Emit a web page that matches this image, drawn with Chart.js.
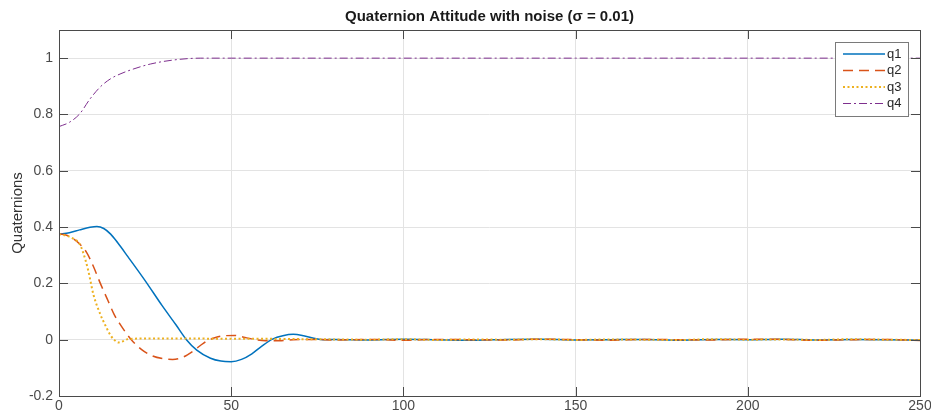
<!DOCTYPE html>
<html>
<head>
<meta charset="utf-8">
<script src="https://cdn.jsdelivr.net/npm/chart.js@4.4.1/dist/chart.umd.min.js"></script>
<style>
  html, body { margin: 0; padding: 0; background: #fff; }
  #wrap { width: 931px; height: 417px; }
</style>
</head>
<body>
<div id="wrap"><canvas id="Chart"></canvas></div>
<script>
const titleText = "Quaternion Attitude with noise (\u03c3 = 0.01)";
const seriesNames = ["q1", "q2", "q3", "q4"];
const xTicks = [0, 50, 100, 150, 200, 250];
const yTicks = [-0.2, 0, 0.2, 0.4, 0.6, 0.8, 1];

// sample times and values, one pair of arrays per component
const q1Time = [0, 3, 6, 9, 11, 13, 15, 17, 20, 25, 30, 34, 37, 40, 44, 47, 50, 53, 56, 59, 62, 65, 68, 71, 74, 77,
  80, 90, 100, 110, 120, 130, 140, 150, 160, 170, 180, 190, 200, 210, 220, 230, 240, 250];
const q1Vals = [0.375, 0.380, 0.390, 0.399, 0.402, 0.395, 0.375, 0.345, 0.295, 0.210, 0.120, 0.052, 0.000, -0.037, -0.066, -0.076, -0.078, -0.070, -0.050, -0.022, 0.002, 0.014, 0.019, 0.014, 0.005, 0.000,
  0.001, -0.001, 0.002, 0.000, -0.002, 0.001, 0.002, -0.001, 0.000, 0.001, -0.002, 0.001, 0.000, 0.002, -0.001, 0.001, 0.000, -0.002];

const q2Time = [0, 2, 4, 6, 8, 10, 12, 14, 16, 18, 21, 24, 27, 30, 33, 36, 39, 42, 45, 48, 51, 54, 57, 60, 64, 68, 75,
  80, 90, 100, 110, 120, 130, 140, 150, 160, 170, 180, 190, 200, 210, 220, 230, 240, 250];
const q2Vals = [0.375, 0.372, 0.360, 0.340, 0.310, 0.260, 0.200, 0.145, 0.090, 0.050, 0.000, -0.035, -0.057, -0.067, -0.070, -0.062, -0.040, -0.012, 0.006, 0.014, 0.015, 0.008, 0.000, -0.004, -0.004, 0.000, 0.001,
  -0.001, 0.001, -0.002, 0.001, 0.000, -0.001, 0.002, 0.000, -0.002, 0.001, 0.000, -0.001, 0.002, 0.001, -0.002, 0.000, 0.001, -0.003];

const q3Time = [0, 2, 4, 6, 7, 8.5, 10, 12, 13.5, 15, 16, 17.2, 18.5, 20, 25,
  30, 40, 50, 60, 70, 80, 90, 100, 110, 120, 130, 140, 150, 160, 170, 180, 190, 200, 210, 220, 230, 240, 250];
const q3Vals = [0.375, 0.370, 0.360, 0.340, 0.310, 0.245, 0.160, 0.090, 0.050, 0.015, 0.000, -0.010, -0.006, 0.002, 0.004,
  0.004, 0.004, 0.003, 0.003, 0.002, 0.001, 0.000, 0.002, -0.001, 0.001, 0.000, 0.002, -0.001, 0.001, 0.000, -0.001, 0.002, 0.000, 0.001, -0.001, 0.002, 0.000, -0.001];

const q4Time = [0, 3, 6, 9, 12, 15, 18, 21.5, 26.5, 33, 41, 50, 100, 150, 200, 250];
const q4Vals = [0.757, 0.772, 0.802, 0.855, 0.898, 0.927, 0.945, 0.961, 0.979, 0.993, 1.000, 1.000, 1.000, 1.000, 1.000, 1.000];

const toPoints = (ts, vs) => ts.map((t, i) => ({ x: t, y: vs[i] }));

const FONT = "'Liberation Sans', Arial, sans-serif";
const TEXT = "#4a4a4a";
const AXIS = "#4a4a4a";

// box, inward ticks, title and legend, drawn the way the plotting tool lays them out
const framePlugin = {
  id: "frame",
  afterDraw(chart) {
    const { ctx, chartArea: a, scales } = chart;
    const tl = 9;
    ctx.save();
    ctx.strokeStyle = AXIS;
    ctx.lineWidth = 1;
    ctx.strokeRect(Math.round(a.left) + 0.5, Math.round(a.top) + 0.5,
      Math.round(a.right - a.left), Math.round(a.bottom - a.top));
    ctx.beginPath();
    xTicks.forEach((v) => {
      const x = Math.round(scales.x.getPixelForValue(v)) + 0.5;
      ctx.moveTo(x, a.bottom); ctx.lineTo(x, a.bottom - tl);
      ctx.moveTo(x, a.top); ctx.lineTo(x, a.top + tl);
    });
    yTicks.forEach((v) => {
      const y = Math.round(scales.y.getPixelForValue(v)) + 0.5;
      ctx.moveTo(a.left, y); ctx.lineTo(a.left + tl, y);
      ctx.moveTo(a.right, y); ctx.lineTo(a.right - tl, y);
    });
    ctx.stroke();

    // title
    ctx.fillStyle = "#1a1a1a";
    ctx.font = "bold 15px " + FONT;
    ctx.textAlign = "center";
    ctx.textBaseline = "middle";
    ctx.fillText(titleText, (a.left + a.right) / 2, 17);

    // legend box in the upper right corner
    const bx = 835, by = 42, bw = 73, bh = 74;
    ctx.fillStyle = "#fff";
    ctx.fillRect(bx, by, bw, bh);
    ctx.strokeStyle = "#7a7a7a";
    ctx.strokeRect(bx + 0.5, by + 0.5, bw, bh);
    ctx.font = "13px " + FONT;
    ctx.textAlign = "left";
    chart.data.datasets.forEach((ds, i) => {
      const y = by + 12 + i * 16.5;
      ctx.strokeStyle = ds.borderColor;
      ctx.lineWidth = ds.borderWidth;
      ctx.setLineDash(ds.borderDash || []);
      ctx.beginPath();
      ctx.moveTo(843, y);
      ctx.lineTo(885, y);
      ctx.stroke();
      ctx.setLineDash([]);
      ctx.fillStyle = "#262626";
      ctx.fillText(ds.label, 887, y);
    });
    ctx.restore();
  },
};

const ctx = document.getElementById("Chart").getContext("2d");
new Chart(ctx, {
  type: "line",
  data: {
    datasets: [
      { label: seriesNames[0], data: toPoints(q1Time, q1Vals), borderColor: "#0072BD", borderWidth: 1.5, order: 4 },
      { label: seriesNames[1], data: toPoints(q2Time, q2Vals), borderColor: "#D95319", borderWidth: 1.5, borderDash: [10, 6], order: 3 },
      { label: seriesNames[2], data: toPoints(q3Time, q3Vals), borderColor: "#EDB120", borderWidth: 2, borderDash: [2, 2.5], order: 2 },
      { label: seriesNames[3], data: toPoints(q4Time, q4Vals), borderColor: "#7E2F8E", borderWidth: 1, borderDash: [8, 3, 2, 3], order: 1 },
    ],
  },
  options: {
    responsive: true,
    maintainAspectRatio: false,
    animation: false,
    layout: { padding: { left: 0, right: 11, top: 30, bottom: 0 } },
    elements: {
      point: { radius: 0 },
      line: { cubicInterpolationMode: "monotone", fill: false },
    },
    plugins: {
      legend: { display: false },
      title: { display: false },
      tooltip: { enabled: false },
    },
    scales: {
      x: {
        type: "linear",
        min: 0,
        max: 250,
        afterBuildTicks: (s) => { s.ticks = xTicks.map((v) => ({ value: v })); },
        afterFit: (s) => { s.height = 21; s.paddingLeft = 0; s.paddingRight = 0; },
        ticks: { color: TEXT, font: { family: FONT, size: 14 }, padding: 2, maxRotation: 0 },
        grid: { color: "#e3e3e3", drawTicks: false },
        border: { display: false },
      },
      y: {
        min: -0.2,
        max: 1.1,
        afterBuildTicks: (s) => { s.ticks = yTicks.map((v) => ({ value: v })); },
        afterFit: (s) => { s.width = 59; s.paddingTop = 0; s.paddingBottom = 0; },
        ticks: {
          color: TEXT,
          font: { family: FONT, size: 14 },
          padding: 6,
          callback: (v) => String(Math.round(v * 10) / 10),
        },
        grid: { color: "#e3e3e3", drawTicks: false },
        border: { display: false },
        title: {
          display: true,
          text: "Quaternions",
          color: "#333",
          font: { family: FONT, size: 15 },
          padding: { top: 9, bottom: 0 },
        },
      },
    },
  },
  plugins: [framePlugin],
});
</script>
</body>
</html>
